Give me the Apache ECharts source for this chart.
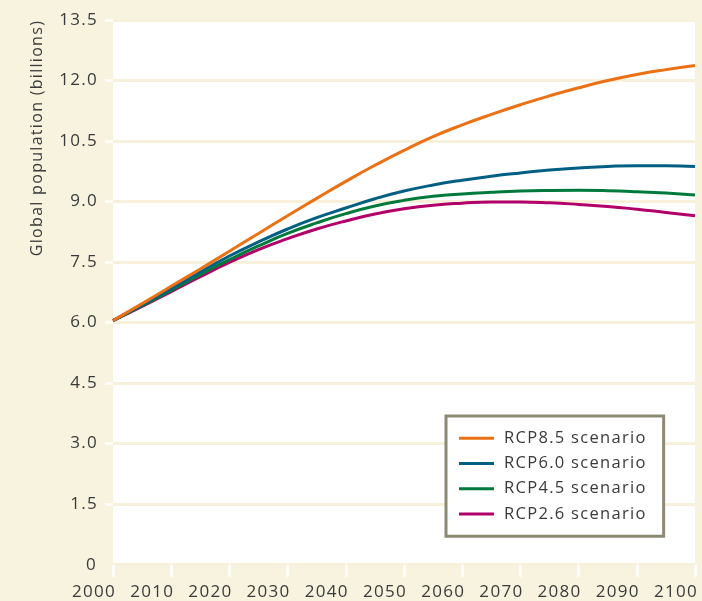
<!DOCTYPE html>
<html>
<head>
<meta charset="utf-8">
<title>Global population scenarios</title>
<script src="https://cdn.jsdelivr.net/npm/echarts@6/dist/echarts.min.js"></script>
<style>
  html, body { margin: 0; padding: 0; background: #f8f3df; }
  #chart { width: 702px; height: 601px; }
</style>
</head>
<body>
<div id="chart"></div>
<script>
// Slightly wider tracking for all chart text (applied to both drawing and measuring,
// so alignment and legend sizing stay consistent).
(function () {
  var proto = CanvasRenderingContext2D.prototype;
  var fill = proto.fillText, measure = proto.measureText;
  proto.fillText = function () { this.letterSpacing = '1.3px'; return fill.apply(this, arguments); };
  proto.measureText = function () { this.letterSpacing = '1.3px'; return measure.apply(this, arguments); };
})();

// Years sampled every five years
var years = [2000, 2005, 2010, 2015, 2020, 2025, 2030, 2035, 2040, 2045, 2050,
             2055, 2060, 2065, 2070, 2075, 2080, 2085, 2090, 2095, 2100];

// Global population, billions
var rcp85 = [6.05, 6.47, 6.90, 7.33, 7.77, 8.21, 8.65, 9.08, 9.50, 9.90, 10.27,
             10.61, 10.90, 11.16, 11.40, 11.62, 11.82, 12.00, 12.15, 12.27, 12.37];
var rcp60 = [6.05, 6.44, 6.84, 7.25, 7.65, 8.00, 8.32, 8.60, 8.84, 9.07, 9.26,
             9.41, 9.53, 9.63, 9.71, 9.78, 9.83, 9.87, 9.89, 9.89, 9.87];
var rcp45 = [6.05, 6.42, 6.80, 7.19, 7.56, 7.90, 8.21, 8.47, 8.70, 8.89, 9.03,
             9.13, 9.19, 9.23, 9.26, 9.275, 9.28, 9.27, 9.245, 9.21, 9.16];
var rcp26 = [6.05, 6.40, 6.77, 7.14, 7.49, 7.81, 8.08, 8.32, 8.52, 8.69, 8.82,
             8.91, 8.96, 8.99, 8.99, 8.97, 8.93, 8.88, 8.81, 8.73, 8.65];

var seriesNames = ['RCP8.5 scenario', 'RCP6.0 scenario', 'RCP4.5 scenario', 'RCP2.6 scenario'];
var seriesColors = ['#ec7014', '#005f83', '#007a3c', '#b2006a'];
var seriesValues = [rcp85, rcp60, rcp45, rcp26];

var yAxisTitle = 'Global population (billions)';
var FONT = '"Open Sans", "Noto Sans", sans-serif';
var TEXT = '#3a3a3a';
var Y_LABEL_MARGIN = 15;

function pairs(values) {
  return years.map(function (y, i) { return [y, values[i]]; });
}

function yLabel(v) { return v === 0 ? '0' : v.toFixed(1); }

var chart = echarts.init(document.getElementById('chart'), null, { renderer: 'canvas' });

chart.setOption({
  backgroundColor: '#f8f3df',
  animation: false,
  textStyle: { fontFamily: FONT, color: TEXT },
  grid: {
    left: 113, right: 7, top: 20, bottom: 36,
    show: true, backgroundColor: '#ffffff', borderWidth: 0
  },
  xAxis: {
    type: 'value', min: 2000, max: 2100, interval: 10,
    axisLine: { show: false },
    axisTick: { show: true, length: 12, lineStyle: { color: '#ffffff', width: 2.5 } },
    splitLine: { show: false },
    axisLabel: {
      show: true, showMinLabel: true, showMaxLabel: true,
      // year labels end at their tick
      align: 'center', padding: [0, 38, 0, 0],
      margin: 18, fontSize: 17, color: TEXT, fontFamily: FONT,
      formatter: function (v) { return String(v); }
    }
  },
  yAxis: {
    type: 'value', min: 0, max: 13.5, interval: 1.5,
    axisLine: { show: false },
    axisTick: { show: true, length: 8, lineStyle: { color: '#ffffff', width: 2.5 } },
    splitLine: { show: true, lineStyle: { color: '#f7f1dc', width: 3 } },
    axisLabel: {
      // the origin label is added separately so it does not push the first year label aside
      showMinLabel: false,
      margin: Y_LABEL_MARGIN, fontSize: 17, color: TEXT, fontFamily: FONT,
      formatter: yLabel
    }
  },
  legend: {
    orient: 'vertical',
    left: 446, top: 416,
    padding: [13, 17, 13, 13],
    itemGap: 7,
    itemWidth: 35, itemHeight: 3,
    icon: 'rect',
    backgroundColor: '#ffffff',
    borderColor: '#8c8a73', borderWidth: 3,
    textStyle: { fontSize: 16.5, color: TEXT, fontFamily: FONT, padding: [0, 0, 0, 5] },
    data: seriesNames
  },
  graphic: [{
    type: 'text',
    x: 37, y: 138,
    rotation: Math.PI / 2,
    style: {
      text: yAxisTitle,
      fontSize: 16, fontFamily: FONT, fill: TEXT,
      align: 'center', verticalAlign: 'middle'
    }
  }],
  series: seriesNames.map(function (name, i) {
    return {
      name: name,
      type: 'line',
      data: pairs(seriesValues[i]),
      smooth: true,
      symbol: 'none',
      lineStyle: { color: seriesColors[i], width: 3 },
      itemStyle: { color: seriesColors[i] },
      z: 10 - i
    };
  })
});

// Origin tick label of the value axis, placed through the axes' own scales
var originX = chart.convertToPixel({ xAxisIndex: 0 }, 2000);
var originY = chart.convertToPixel({ yAxisIndex: 0 }, 0);
chart.setOption({
  graphic: [{}, {
    type: 'text',
    x: originX - 1 - Y_LABEL_MARGIN, y: originY,
    style: {
      text: yLabel(0),
      fontSize: 17, fontFamily: FONT, fill: TEXT,
      align: 'right', verticalAlign: 'middle'
    }
  }]
});
</script>
</body>
</html>
